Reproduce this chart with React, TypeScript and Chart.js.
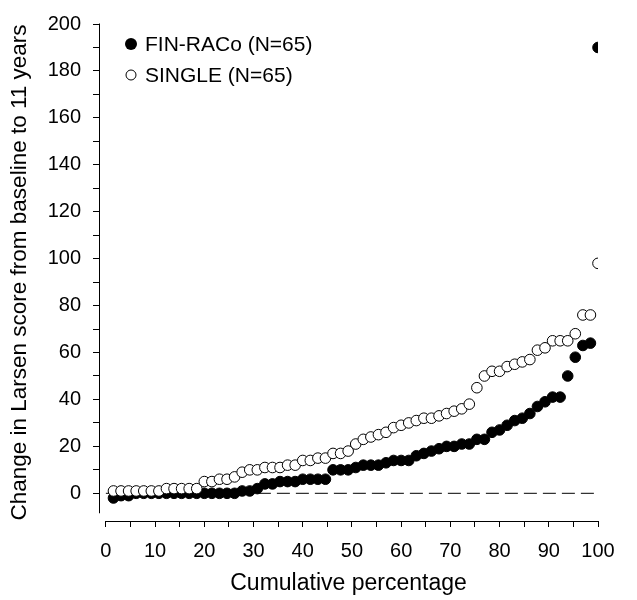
import React, { useEffect, useRef } from "react";
import { Chart, registerables } from "chart.js";

Chart.register(...registerables);

const N = 65;

// Sorted change in Larsen score (baseline to 11 years)
const finRaco = [
  -2, -1, -1, 0, 0, 0, 0, 0, 0, 0,
  0, 0, 0, 0, 0, 0, 0, 1, 1, 2,
  4, 4, 5, 5, 5, 6, 6, 6, 6, 10,
  10, 10, 11, 12, 12, 12, 13, 14, 14, 14,
  16, 17, 18, 19, 20, 20, 21, 21, 23, 23,
  26, 27, 29, 31, 32, 34, 37, 39, 41, 41,
  50, 58, 63, 64, 190,
];

const single = [
  1, 1, 1, 1, 1, 1, 1, 2, 2, 2,
  2, 2, 5, 5, 6, 6, 7, 9, 10, 10,
  11, 11, 11, 12, 12, 14, 14, 15, 15, 17,
  17, 18, 21, 23, 24, 25, 26, 28, 29, 30,
  31, 32, 32, 33, 34, 35, 36, 38, 45, 50,
  52, 52, 54, 55, 56, 57, 61, 62, 65, 65,
  65, 68, 76, 76, 98,
];

const xTickValues = [0, 5, 10, 15, 20, 25, 30, 35, 40, 45, 50, 55, 60, 65, 70, 75, 80, 85, 90, 95, 100];
const xLabelledTicks = [0, 10, 20, 30, 40, 50, 60, 70, 80, 90, 100];
const yTickValues = [0, 10, 20, 30, 40, 50, 60, 70, 80, 90, 100, 110, 120, 130, 140, 150, 160, 170, 180, 190, 200];
const yLabelledTicks = [0, 20, 40, 60, 80, 100, 120, 140, 160, 180, 200];

const seriesNames = ["FIN-RACo (N=65)", "SINGLE (N=65)"];
const xTitle = "Cumulative percentage";
const yTitle = "Change in Larsen score from baseline to 11 years";

const X_MIN = -1.4;
const X_MAX = 100;
const Y_MIN = -11.8;
const Y_MAX = 200;
const Y_AXIS_LOW = -8.5;

const FONT = "Arial, 'Liberation Sans', sans-serif";

const toPoints = (vals: number[]) =>
  vals.map((v, i) => ({ x: ((i + 1) / N) * 100, y: v }));

const axisLinesPlugin = {
  id: "axisLines",
  afterDraw(chart: any) {
    const { ctx, chartArea, scales } = chart;
    const x = scales.x;
    const y = scales.y;
    ctx.save();
    ctx.strokeStyle = "#000";
    ctx.lineWidth = 1;
    const yx = Math.round(chartArea.left) + 0.5;
    ctx.beginPath();
    ctx.moveTo(yx, y.getPixelForValue(Y_AXIS_LOW));
    ctx.lineTo(yx, y.getPixelForValue(Y_MAX) - 0.5);
    ctx.stroke();
    const xy = Math.round(chartArea.bottom) + 0.5;
    ctx.beginPath();
    ctx.moveTo(x.getPixelForValue(0), xy);
    ctx.lineTo(x.getPixelForValue(X_MAX) + 0.5, xy);
    ctx.stroke();

    // legend
    const lx = chartArea.left + 32;
    const ly1 = chartArea.top + 20;
    const ly2 = chartArea.top + 51;
    ctx.fillStyle = "#000";
    ctx.beginPath();
    ctx.arc(lx, ly1, 6, 0, Math.PI * 2);
    ctx.fill();
    ctx.beginPath();
    ctx.arc(lx, ly2, 5, 0, Math.PI * 2);
    ctx.fillStyle = "#fff";
    ctx.fill();
    ctx.stroke();
    ctx.fillStyle = "#000";
    ctx.font = `21px ${FONT}`;
    ctx.textBaseline = "middle";
    ctx.textAlign = "left";
    ctx.fillText(seriesNames[0], lx + 14, ly1 + 1);
    ctx.fillText(seriesNames[1], lx + 14, ly2 + 1);
    ctx.restore();
  },
};

export default function App() {
  const canvasRef = useRef<HTMLCanvasElement | null>(null);

  useEffect(() => {
    if (!canvasRef.current) return;
    const chart = new Chart(canvasRef.current, {
      type: "scatter",
      data: {
        datasets: [
          {
            label: seriesNames[1],
            data: toPoints(single),
            backgroundColor: "#fff",
            borderColor: "#000",
            borderWidth: 1,
            pointRadius: 5.3,
            order: 0,
          },
          {
            label: seriesNames[0],
            data: toPoints(finRaco),
            backgroundColor: "#000",
            borderColor: "#000",
            borderWidth: 1,
            pointRadius: 5.3,
            order: 1,
          },
          {
            label: "zero",
            data: [
              { x: 0, y: 0 },
              { x: 100, y: 0 },
            ],
            showLine: true,
            borderColor: "#000",
            borderWidth: 1,
            borderDash: [13, 6],
            pointRadius: 0,
            order: 2,
          } as any,
        ],
      },
      options: {
        responsive: false,
        animation: false,
        devicePixelRatio: 1,
        layout: { padding: { left: 0, right: 39, top: 24, bottom: 0 } },
        plugins: {
          legend: { display: false },
          tooltip: { enabled: false },
        },
        scales: {
          x: {
            type: "linear",
            min: X_MIN,
            max: X_MAX,
            border: { display: false },
            grid: {
              drawOnChartArea: false,
              drawTicks: true,
              tickLength: 6,
              color: "#000",
              tickColor: "#000",
            },
            afterBuildTicks: (scale: any) => {
              scale.ticks = xTickValues.map((v) => ({ value: v }));
            },
            afterFit: (scale: any) => {
              scale.height = 79;
            },
            ticks: {
              autoSkip: false,
              maxRotation: 0,
              padding: 12,
              color: "#000",
              font: { family: FONT, size: 20 },
              callback: (v: any) => (xLabelledTicks.includes(Number(v)) ? String(v) : ""),
            },
            title: {
              display: true,
              text: xTitle,
              color: "#000",
              font: { family: FONT, size: 23 },
              padding: { top: 0, bottom: 3 },
            },
          },
          y: {
            type: "linear",
            min: Y_MIN,
            max: Y_MAX,
            border: { display: false },
            grid: {
              drawOnChartArea: false,
              drawTicks: true,
              tickLength: 6,
              color: "#000",
              tickColor: "#000",
            },
            afterBuildTicks: (scale: any) => {
              scale.ticks = yTickValues.map((v) => ({ value: v }));
            },
            afterFit: (scale: any) => {
              scale.width = 99;
            },
            ticks: {
              autoSkip: false,
              padding: 12,
              color: "#000",
              font: { family: FONT, size: 20 },
              callback: (v: any) => (yLabelledTicks.includes(Number(v)) ? String(v) : ""),
            },
            title: {
              display: true,
              text: yTitle,
              color: "#000",
              font: { family: FONT, size: 22.5 },
              padding: { top: 6, bottom: 0 },
            },
          },
        },
      },
      plugins: [axisLinesPlugin],
    });
    return () => chart.destroy();
  }, []);

  return (
    <div style={{ position: "absolute", left: 0, top: 0, width: 637, height: 600, background: "#fff" }}>
      <canvas ref={canvasRef} width={637} height={600} style={{ width: 637, height: 600 }} />
    </div>
  );
}
